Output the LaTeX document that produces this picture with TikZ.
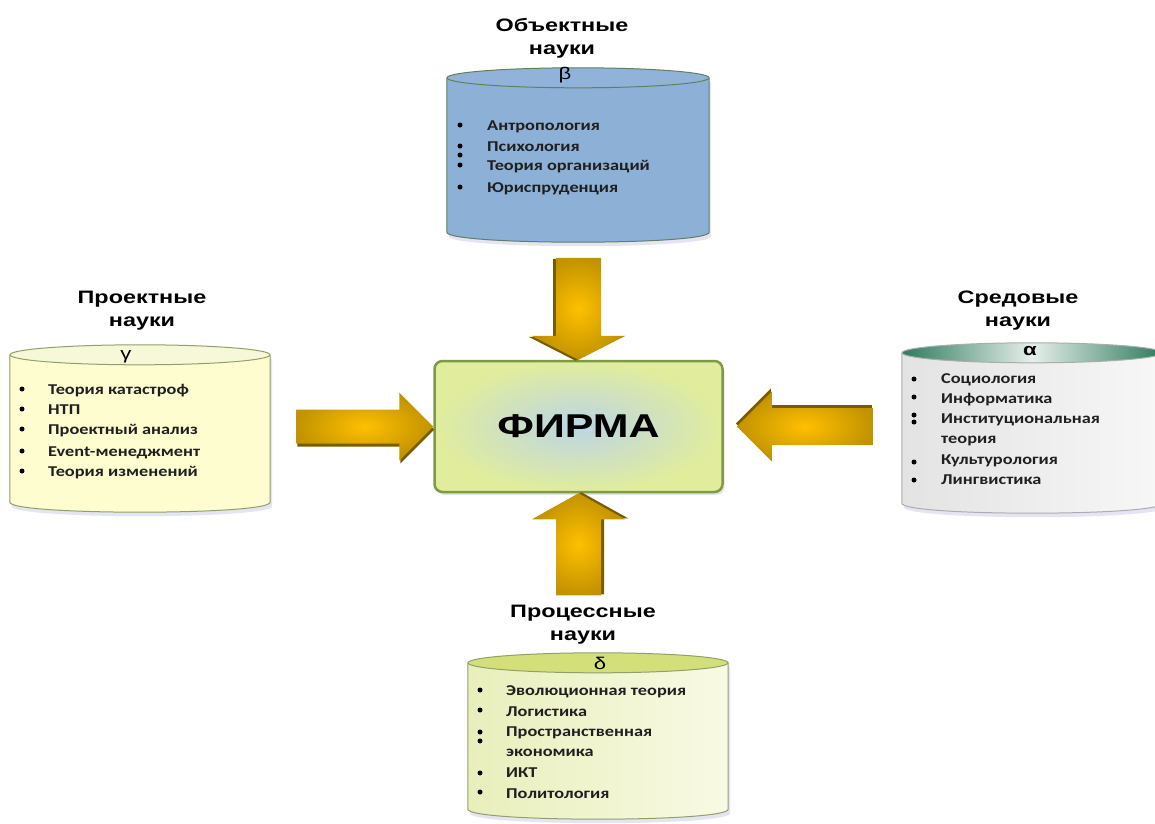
\documentclass[tikz,border=0pt]{standalone}
\usepackage{fontspec}
\setmainfont{Liberation Sans}
\newfontfamily\titlefont[FakeStretch=1.3]{Liberation Sans}
\newfontfamily\itemfont[FakeStretch=1.22]{Carlito}
\usetikzlibrary{shapes.geometric,shadows,positioning}
\definecolor{goldlight}{HTML}{FFC000}
\definecolor{golddark}{HTML}{C29300}
\definecolor{goldshadow}{HTML}{7A5C00}
\definecolor{objfill}{HTML}{8DB0D7}
\definecolor{objborder}{HTML}{61805E}
\definecolor{projfill}{HTML}{FDFDD0}
\definecolor{projtop}{HTML}{F6F8D8}
\definecolor{sredtop}{HTML}{2E7B5C}
\definecolor{procleft}{HTML}{E8EFBB}
\definecolor{procright}{HTML}{F8FAE4}
\definecolor{proctop}{HTML}{D3E07A}
\definecolor{dbborder}{HTML}{8FA168}
\definecolor{firmain}{HTML}{BCD5E4}
\definecolor{firmaout}{HTML}{E1ED9C}
\definecolor{firmaborder}{HTML}{7E9A46}
\tikzset{
  obj body/.style={fill=objfill, draw=objborder, line width=1pt},
  obj end/.style={fill=objfill!96!white, draw=objborder, line width=1pt},
  proj body/.style={fill=projfill, draw=dbborder, line width=1pt},
  proj end/.style={fill=projtop, draw=dbborder, line width=1pt},
  sred body/.style={left color=gray!22, right color=gray!6, draw=gray!65, line width=1pt},
  sred end/.style={left color=sredtop, right color=sredtop, middle color=sredtop!12!white,
    draw=gray!65, line width=1pt},
  proc body/.style={left color=procleft, right color=procright, draw=dbborder, line width=1pt},
  proc end/.style={fill=proctop, draw=dbborder, line width=1pt},
  scititle/.style={anchor=north, inner sep=0pt, align=center,
    font=\titlefont\bfseries\fontsize{18}{23}\selectfont},
  sciitem/.style={anchor=base west, inner sep=0pt, text=black!88,
    font=\itemfont\bfseries\fontsize{15}{20}\selectfont},
  greek/.style={inner sep=0pt, font=\titlefont\fontsize{17}{20}\selectfont},
  firmabox/.style={
    draw=firmaborder, line width=2.5pt, rounded corners=8pt,
    minimum width=288pt, minimum height=131pt,
    inner color=firmain, outer color=firmaout,
    drop shadow={shadow xshift=2pt, shadow yshift=-3pt, opacity=.2},
    font=\titlefont\bfseries\fontsize{33}{36}\selectfont
  }
}
% #1 name, #2 centre, #3 half width, #4 height, #5 style prefix
\newcommand\sciencedb[5]{%
  \node[minimum width=2*#3pt, minimum height=#4pt, inner sep=0pt] (#1) at (#2) {};
  \fill[gray!60!blue, opacity=.15, transform canvas={shift={(2pt,-4pt)}}]
    ([yshift=-10pt]#1.north west) -- ([yshift=10pt]#1.south west)
    .. controls ([yshift=-3.3pt]#1.south west) and ([yshift=-3.3pt]#1.south east)
    .. ([yshift=10pt]#1.south east) -- ([yshift=-10pt]#1.north east) -- cycle;
  \path[#5 body] ([yshift=-10pt]#1.north west) -- ([yshift=10pt]#1.south west)
    .. controls ([yshift=-3.3pt]#1.south west) and ([yshift=-3.3pt]#1.south east)
    .. ([yshift=10pt]#1.south east) -- ([yshift=-10pt]#1.north east);
  \path[#5 end] ([yshift=-10pt]#1.north) ellipse [x radius=#3pt, y radius=10pt];
}
% #1 tip, #2 angle, #3 length, #4 head length, #5 head half width, #6 shaft half width
\newcommand\goldarrow[6]{%
  \begin{scope}[shift={(#1)},rotate=#2]
    \fill[goldshadow,shift={(1,3)}] (0,0) -- (-#4,-#5) -- (-#4,-#6) -- (-#3,-#6)
      -- (-#3,#6) -- (-#4,#6) -- (-#4,#5) -- cycle;
    \shade[inner color=goldlight, outer color=golddark] (0,0) -- (-#4,-#5) -- (-#4,-#6)
      -- (-#3,-#6) -- (-#3,#6) -- (-#4,#6) -- (-#4,#5) -- cycle;
  \end{scope}}
\begin{document}
\begin{tikzpicture}[x=1pt,y=-1pt]
\clip (0,0) rectangle (1155,823);
\fill[white] (0,0) rectangle (1155,823);

% firm in the middle
\node[firmabox] (firma) at (578.5,426.5) {ФИРМА};

% the four groups of sciences
\sciencedb{obj}{578,155}{131}{174}{obj}
\sciencedb{proj}{140,428.5}{130}{167}{proj}
\sciencedb{sred}{1032,428}{130}{170}{sred}
\sciencedb{proc}{598,736}{130}{166}{proc}

\node[scititle] (objt) at (562,18) {Объектные\\науки};
\node[scititle] (projt) at (142,291) {Проектные\\науки};
\node[scititle] (sredt) at (1018,291) {Средовые\\науки};
\node[scititle] (proct) at (583,605) {Процессные\\науки};

\node[greek] (beta) at (565,75) {β};
\node[greek] (gamma) at (126,357) {γ};
\node[greek, font=\titlefont\bfseries\fontsize{17}{20}\selectfont] (alpha) at (1030,351) {α};
\node[greek] (delta) at (600,663) {δ};

% lists
\foreach \y/\t in {125/Антропология,146/Психология,165/Теория организаций,187/Юриспруденция}
  \node[sciitem] at (487,\y+5) {\t};
\foreach \y in {125,146,155,165,187}
  \fill (460,\y) circle (2.5);
\foreach \y/\t in {389/Теория катастроф,409/НТП,429/Проектный анализ,451/Event-менеджмент,471/Теория изменений}
  \node[sciitem] at (48,\y+5) {\t};
\foreach \y in {389,409,429,451,471}
  \fill (22,\y) circle (2.5);
\foreach \y/\t in {378/Социология,398/Информатика,418/Институциональная,438/теория,459/Культурология,479/Лингвистика}
  \node[sciitem] at (941,\y+5) {\t};
\foreach \y in {379,397,415,422,462,480}
  \fill (914,\y) circle (2.5);
\foreach \y/\t in {690/Эволюционная теория,711/Логистика,731/Пространственная,751/экономика,772/ИКТ,793/Политология}
  \node[sciitem] at (506,\y+5) {\t};
\foreach \y in {690,710,732,741,773,792}
  \fill (480,\y) circle (2.5);

% arrows into the firm
\goldarrow{firma.north}{-90}{102}{24}{47}{22.5}
\goldarrow{firma.south}{90}{102}{26}{46.5}{22.5}
\goldarrow{firma.west}{0}{137}{34}{34}{17}
\goldarrow{[xshift=13pt]firma.east}{180}{136}{35}{35}{18.5}
\end{tikzpicture}
\end{document}
